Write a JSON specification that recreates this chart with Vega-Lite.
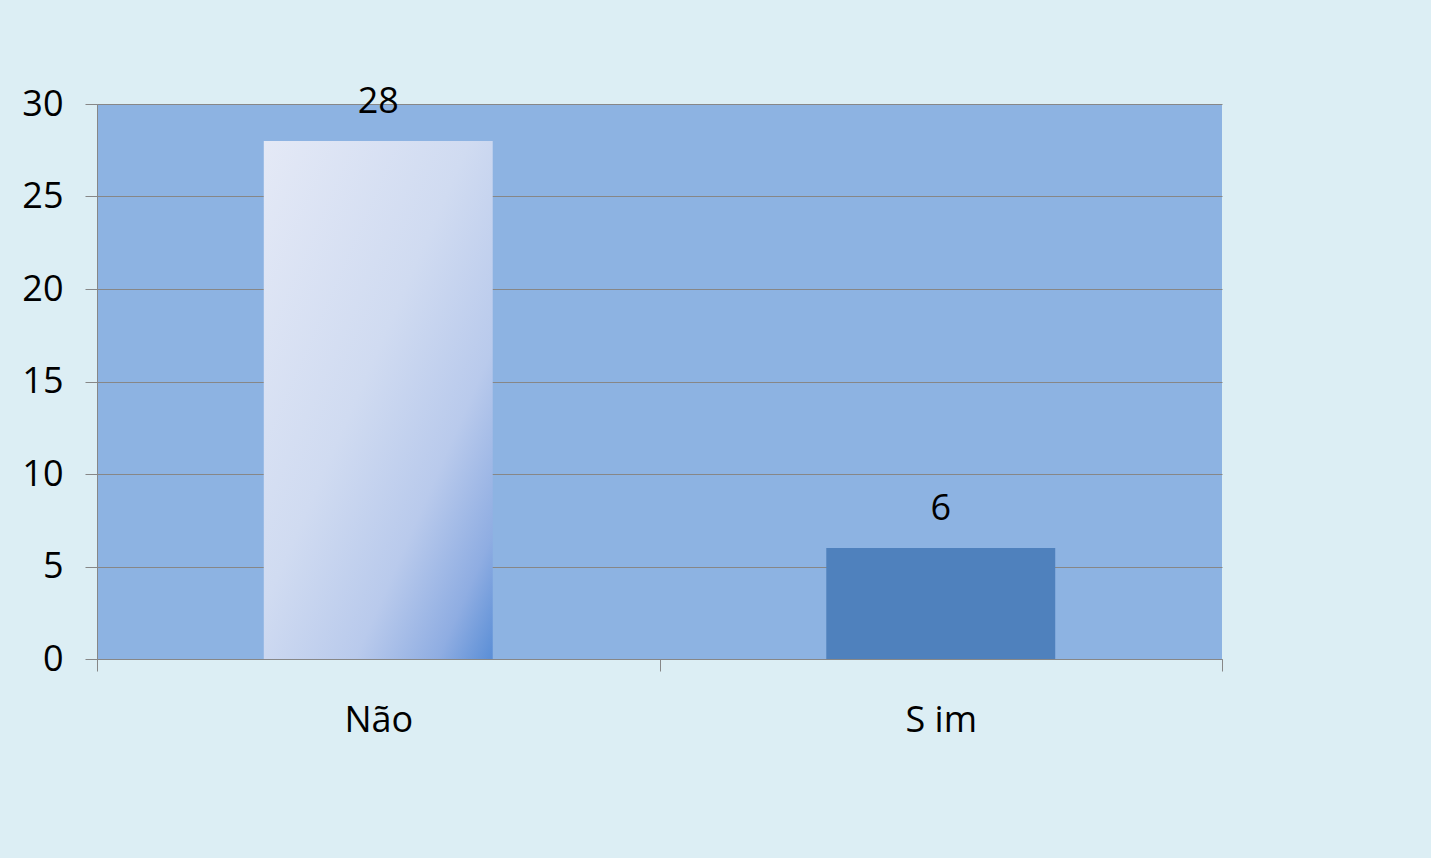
{
  "$schema": "https://vega.github.io/schema/vega-lite/v6.json",
  "width": 1125,
  "height": 555,
  "autosize": {"type": "none"},
  "padding": {"left": 97, "top": 104, "right": 209, "bottom": 199},
  "background": "#DCEEF4",
  "view": {"fill": "#8DB3E2", "stroke": null},
  "config": {
    "font": "Open Sans",
    "axis": {"labelFont": "Open Sans", "labelFontSize": 36, "labelColor": "#000000", "domainColor": "#878787", "tickColor": "#878787", "gridColor": "#878787", "gridOpacity": 1, "domainWidth": 1, "tickWidth": 1, "gridWidth": 1, "tickSize": 12, "title": null}
  },
  "data": {"values": [
    {"resposta": "Não", "valor": 28},
    {"resposta": "S im", "valor": 6}
  ]},
  "encoding": {
    "x": {"field": "resposta", "type": "nominal", "sort": null,
      "scale": {"paddingInner": 0, "paddingOuter": 0},
      "axis": {"labelAngle": 0, "tickBand": "extent", "labelPadding": 60, "labelBaseline": "alphabetic", "grid": false}},
    "y": {"field": "valor", "type": "quantitative",
      "scale": {"domain": [0, 30], "nice": false},
      "axis": {"values": [0, 5, 10, 15, 20, 25, 30], "labelPadding": 22, "grid": true}}
  },
  "layer": [
    {
      "transform": [{"filter": "datum.resposta === 'Não'"}],
      "mark": {"type": "bar", "width": {"band": 0.407},
        "color": {"gradient": "linear", "x1": 0, "y1": 0, "x2": 1, "y2": 1,
          "stops": [
            {"offset": 0, "color": "#E4E9F6"},
            {"offset": 0.45, "color": "#D0DBF1"},
            {"offset": 0.7, "color": "#B9CAEC"},
            {"offset": 0.88, "color": "#8FADE2"},
            {"offset": 1, "color": "#5A8ED6"}
          ]}}
    },
    {
      "transform": [{"filter": "datum.resposta === 'S im'"}],
      "mark": {"type": "bar", "width": {"band": 0.407}, "color": "#4F81BD"}
    },
    {
      "mark": {"type": "text", "font": "Open Sans", "fontSize": 36, "color": "#000000", "baseline": "alphabetic", "dy": -28},
      "encoding": {"text": {"field": "valor", "type": "quantitative"}}
    }
  ]
}
